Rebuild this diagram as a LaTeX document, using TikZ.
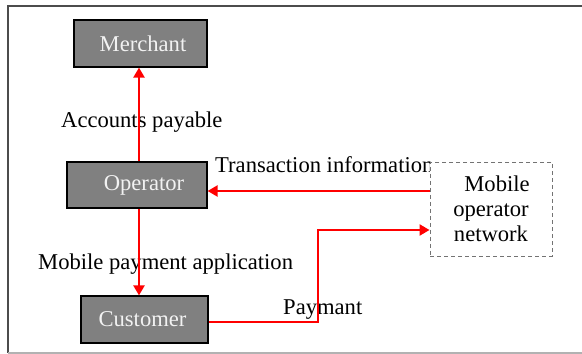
\documentclass[tikz,border=0pt]{standalone}
\usepackage{fontspec}
\setmainfont{Liberation Serif}
\usetikzlibrary{arrows.meta,calc}
\begin{document}
\begin{tikzpicture}[x=1pt,y=1pt,
  every node/.style={font=\fontsize{22.6}{25}\selectfont, inner sep=0pt},
  gbox/.style={draw=black, line width=1.2pt, fill=black!50, text=black!5},
  netbox/.style={draw=black!55, dash pattern=on 4pt off 3pt, line width=0.9pt, fill=white, align=center},
  redarrow/.style={draw=red, line width=2.3pt, -{Triangle[length=10pt,width=11pt]}},
  lbl/.style={text=black, anchor=base west}
]
\useasboundingbox (0,0) rectangle (582,354);
% frame
\draw[line width=2pt, draw=black!70] (8,1) -- (8,348) -- (582,348);
\draw[line width=1.5pt, draw=black!30] (8,1) -- (582,1);

% boxes
\node[gbox, minimum width=133pt, minimum height=47pt] (mer) at (140.5,310.5) {\hspace*{5pt}Merchant};
\node[gbox, minimum width=140pt, minimum height=46pt] (op) at (137,169) {\hspace*{14pt}Operator};
\node[gbox, minimum width=127pt, minimum height=47pt] (cust) at (144.5,34.5) {Customer\hspace*{4pt}};

% labels
\node[lbl] (lap) at (61,226) {Accounts payable};
\node[lbl] (lmp) at (38,84) {Mobile payment application};
\node[lbl] (lpay) at (283,39) {Paymant};
\node[lbl] (ltr) at (215,181) {Transaction information};

% network box (drawn over the clipped label)
\node[netbox, minimum width=122pt, minimum height=94pt] (net) at (491,145) {\hspace*{12pt}Mobile\\operator\\network};

% connector helper coordinates
\coordinate (ax) at (139,0);
\coordinate (ty) at (0,163);
\coordinate (py) at (0,124);
\coordinate (px) at (318,0);
\coordinate (cy) at (0,32);

% connectors
\draw[redarrow] (op.north -| ax) -- (mer.south -| ax);
\draw[redarrow] (op.south -| ax) -- (cust.north -| ax);
\draw[redarrow] (net.west |- ty) -- (op.east |- ty);
\draw[redarrow] (cust.east |- cy) -- (px |- cy) -- (px |- py) -- (net.west |- py);
\end{tikzpicture}
\end{document}
